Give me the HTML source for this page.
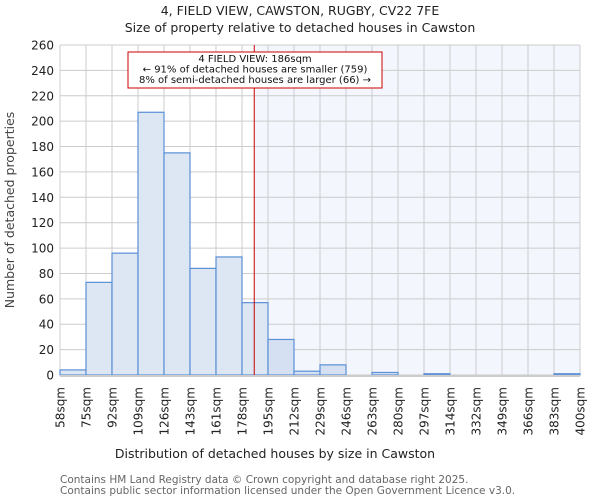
<!DOCTYPE html>
<html><head><meta charset="utf-8"><style>
body{margin:0;background:#fff;font-family:"DejaVu Sans","Liberation Sans",sans-serif}
svg text{font-family:"DejaVu Sans","Liberation Sans",sans-serif}
</style></head><body>
<svg id="c" width="600" height="500" xmlns="http://www.w3.org/2000/svg">
<text x="300" y="15" text-anchor="middle" font-size="12.5" fill="#222">4, FIELD VIEW, CAWSTON, RUGBY, CV22 7FE</text>
<text x="300" y="32" text-anchor="middle" font-size="12.5" fill="#222">Size of property relative to detached houses in Cawston</text>
<g id="grid"></g>
<g id="bars"></g>
<g id="axes"></g>
<text x="275" y="458" text-anchor="middle" font-size="12.5" fill="#222">Distribution of detached houses by size in Cawston</text>
<text transform="translate(14,210) rotate(-90)" text-anchor="middle" font-size="12.5" fill="#444">Number of detached properties</text>
<text x="60" y="483" font-size="10.5" fill="#666">Contains HM Land Registry data © Crown copyright and database right 2025.</text>
<text x="60" y="494" font-size="10.5" fill="#666">Contains public sector information licensed under the Open Government Licence v3.0.</text>
</svg>
<script>
const edges=[58,75,92,109,126,143,161,178,195,212,229,246,263,280,297,314,332,349,366,383,400];
const counts=[4,73,96,207,175,84,93,57,28,3,8,0,2,0,1,0,0,0,0,1];
const yTicks=[0,20,40,60,80,100,120,140,160,180,200,220,240,260];
const marker=186;
const X0=60,X1=580,Y0=375,Y1=45,YMAX=260;
const NS="http://www.w3.org/2000/svg";
const nb=counts.length;
function xi(i){return X0+(X1-X0)*i/nb;}
function xv(v){for(let i=0;i<nb;i++){if(v<=edges[i+1])return xi(i)+(v-edges[i])/(edges[i+1]-edges[i])*(X1-X0)/nb;}return X1;}
function y(v){return Y0-(Y0-Y1)*v/YMAX;}
function mk(t,a,p){const e=document.createElementNS(NS,t);for(const k in a)e.setAttribute(k,a[k]);p.appendChild(e);return e;}
const g=document.getElementById('grid'),b=document.getElementById('bars'),ax=document.getElementById('axes');
const mx=xv(marker);
const sh=mk('rect',{x:mx,y:Y1,width:X1-mx,height:Y0-Y1,fill:'#f3f6fd'},g);


yTicks.forEach(t=>{
 const l=mk('line',{x1:X0,x2:X1,y1:y(t),y2:y(t),stroke:'#ccc','stroke-width':1},g);
 
 
 const tx=mk('text',{x:X0-6,y:y(t)+4.5,'text-anchor':'end','font-size':12,fill:'#222'},ax);
 tx.textContent=t;
 
 
});
edges.forEach((e,i)=>{
 const l=mk('line',{x1:xi(i),x2:xi(i),y1:Y1,y2:Y0,stroke:'#ccc','stroke-width':1},g);
 
 
 const tx=mk('text',{transform:`translate(${xi(i)+4.5},387) rotate(-90)`,'text-anchor':'end','font-size':12,fill:'#222'},ax);
 tx.textContent=e+'sqm';
 
 
});
counts.forEach((c,i)=>{
 if(c<=0)return;
 const r=mk('rect',{x:xi(i),y:y(c),width:xi(i+1)-xi(i),height:Y0-y(c),fill:xi(i)>=mx?'#d5e1f3':'#dde7f4',stroke:'#5b8fd6','stroke-width':1.2},b);
 
 
});
const base=mk('line',{x1:X0,x2:X1,y1:Y0+1,y2:Y0+1,stroke:'#ccc','stroke-width':2},ax);


const ml=mk('line',{x1:mx,x2:mx,y1:Y1,y2:Y0,stroke:'#c00','stroke-width':1},ax);


const box=mk('rect',{x:128,y:52,width:254,height:36,fill:'#fff',stroke:'#c00','stroke-width':1},ax);


['4 FIELD VIEW: 186sqm','← 91% of detached houses are smaller (759)','8% of semi-detached houses are larger (66) →'].forEach((s,i)=>{
 const t=mk('text',{x:255,y:62+i*10.5,'text-anchor':'middle','font-size':10,fill:'#111'},ax);
 t.textContent=s;
 
 
});
</script>
</body></html>
